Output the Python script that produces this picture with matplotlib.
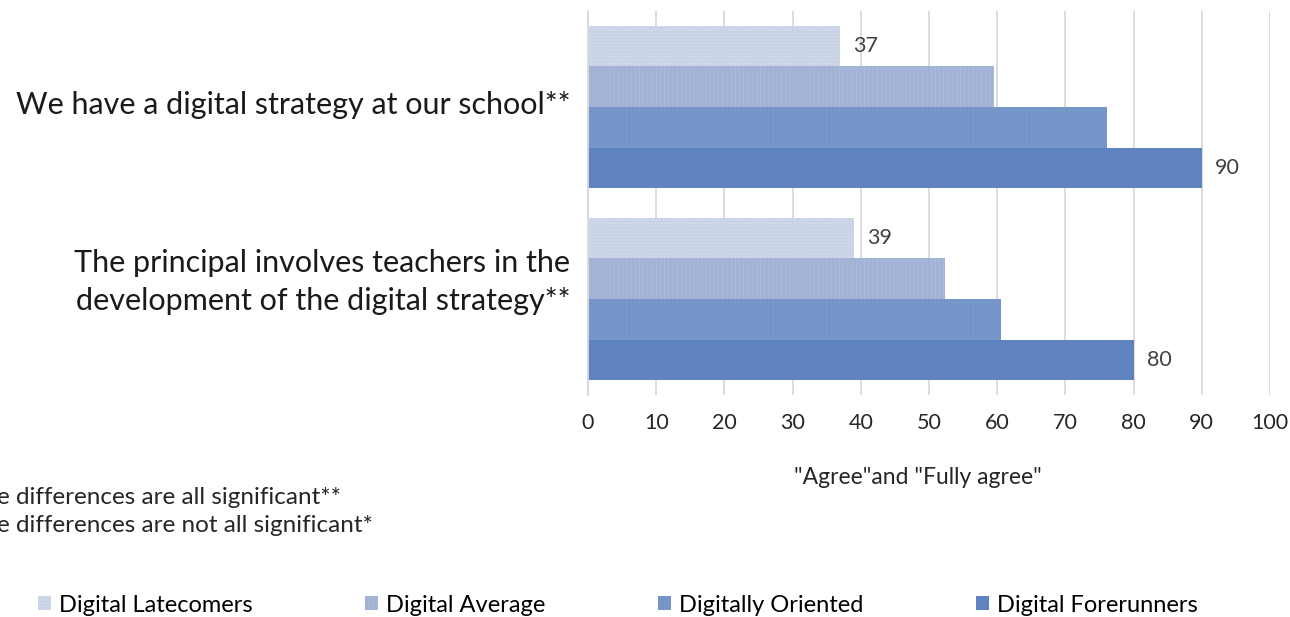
import matplotlib.pyplot as plt
import matplotlib.transforms as mtransforms
import numpy as np

plt.rcParams['font.family'] = ['Lato', 'DejaVu Sans']

# survey statements and school groups
statements = ["We have a digital strategy at our school**",
              "The principal involves teachers in the\ndevelopment of the digital strategy**"]
groups = ["Digital Latecomers", "Digital Average", "Digitally Oriented", "Digital Forerunners"]

# share answering "agree" / "fully agree", one list per group (statement order)
latecomers = [37, 39]
average = [59.6, 52.4]
oriented = [76.1, 60.5]
forerunners = [90, 80]

colors = ["#c9d3e6", "#a1b2d4", "#7595c9", "#5f82c0"]
hatch_colors = ["#dbe2ef", "#b0bfdb", "#7f9dcd", "#5f82c0"]

fig = plt.figure(figsize=(12.9, 6.17), dpi=100)
ax = fig.add_axes([588 / 1290, 1 - 395 / 617, 682 / 1290, 384 / 617])

series = [latecomers, average, oriented, forerunners]
bar_h = 0.211
y = np.arange(len(statements))
for i, (name, vals) in enumerate(zip(groups, series)):
    pos = y + (i - 1.5) * bar_h
    hatch = [".....", "||||", "||||", None][i]
    plt.rcParams['hatch.color'] = hatch_colors[i]
    plt.rcParams['hatch.linewidth'] = 0.4
    bars = ax.barh(pos, vals, height=bar_h, color=colors[i], label=name,
                   hatch=hatch, edgecolor=hatch_colors[i], linewidth=0)
    # only the outer groups get value labels
    if i in (0, 3):
        for b, v in zip(bars, vals):
            ax.text(v + 1.9, b.get_y() + b.get_height() / 2, f"{v:g}",
                    va="center", ha="left", fontsize=15.5, color="#404040")

ax.set_xlim(0, 100)
ax.set_ylim(1.5, -0.5)
ax.set_xticks(range(0, 101, 10))
ax.tick_params(axis="x", length=0, pad=13, labelsize=15.5, labelcolor="#262626")
ax.tick_params(axis="y", length=0)
ax.set_yticks([])
ax.grid(axis="x", color="#d9d9d9", linewidth=1.3)
ax.set_axisbelow(True)
for side in ["top", "right", "bottom"]:
    ax.spines[side].set_visible(False)
ax.spines["left"].set_color("#d9d9d9")
ax.spines["left"].set_linewidth(1.3)

# statement labels left of the bars
offsets = [-2, -17]
for yi, label, off in zip(y, statements, offsets):
    tr = mtransforms.offset_copy(ax.transData, fig=fig, x=-18, y=-off, units="dots")
    ax.text(0, yi, label, transform=tr, ha="right", va="center",
            fontsize=22, color="#1a1a1a", linespacing=1.42)

fig.text(918 / 1290, 1 - 478 / 617, '"Agree"and "Fully agree"', ha="center", va="center",
         fontsize=16.5, color="#262626")

fig.text(-31 / 1290, 1 - 497 / 617, "The differences are all significant**",
         ha="left", va="center", fontsize=17.5, color="#262626")
fig.text(-31 / 1290, 1 - 525 / 617, "The differences are not all significant*",
         ha="left", va="center", fontsize=17.5, color="#262626")

fig.legend(loc="center left", bbox_to_anchor=(38 / 1290, 1 - 605 / 617), ncol=4,
           frameon=False, fontsize=17, handlelength=0.55, handleheight=0.55,
           handletextpad=0.35, columnspacing=4.75, borderpad=0, borderaxespad=0)

fig.savefig("out.png", dpi=100)
